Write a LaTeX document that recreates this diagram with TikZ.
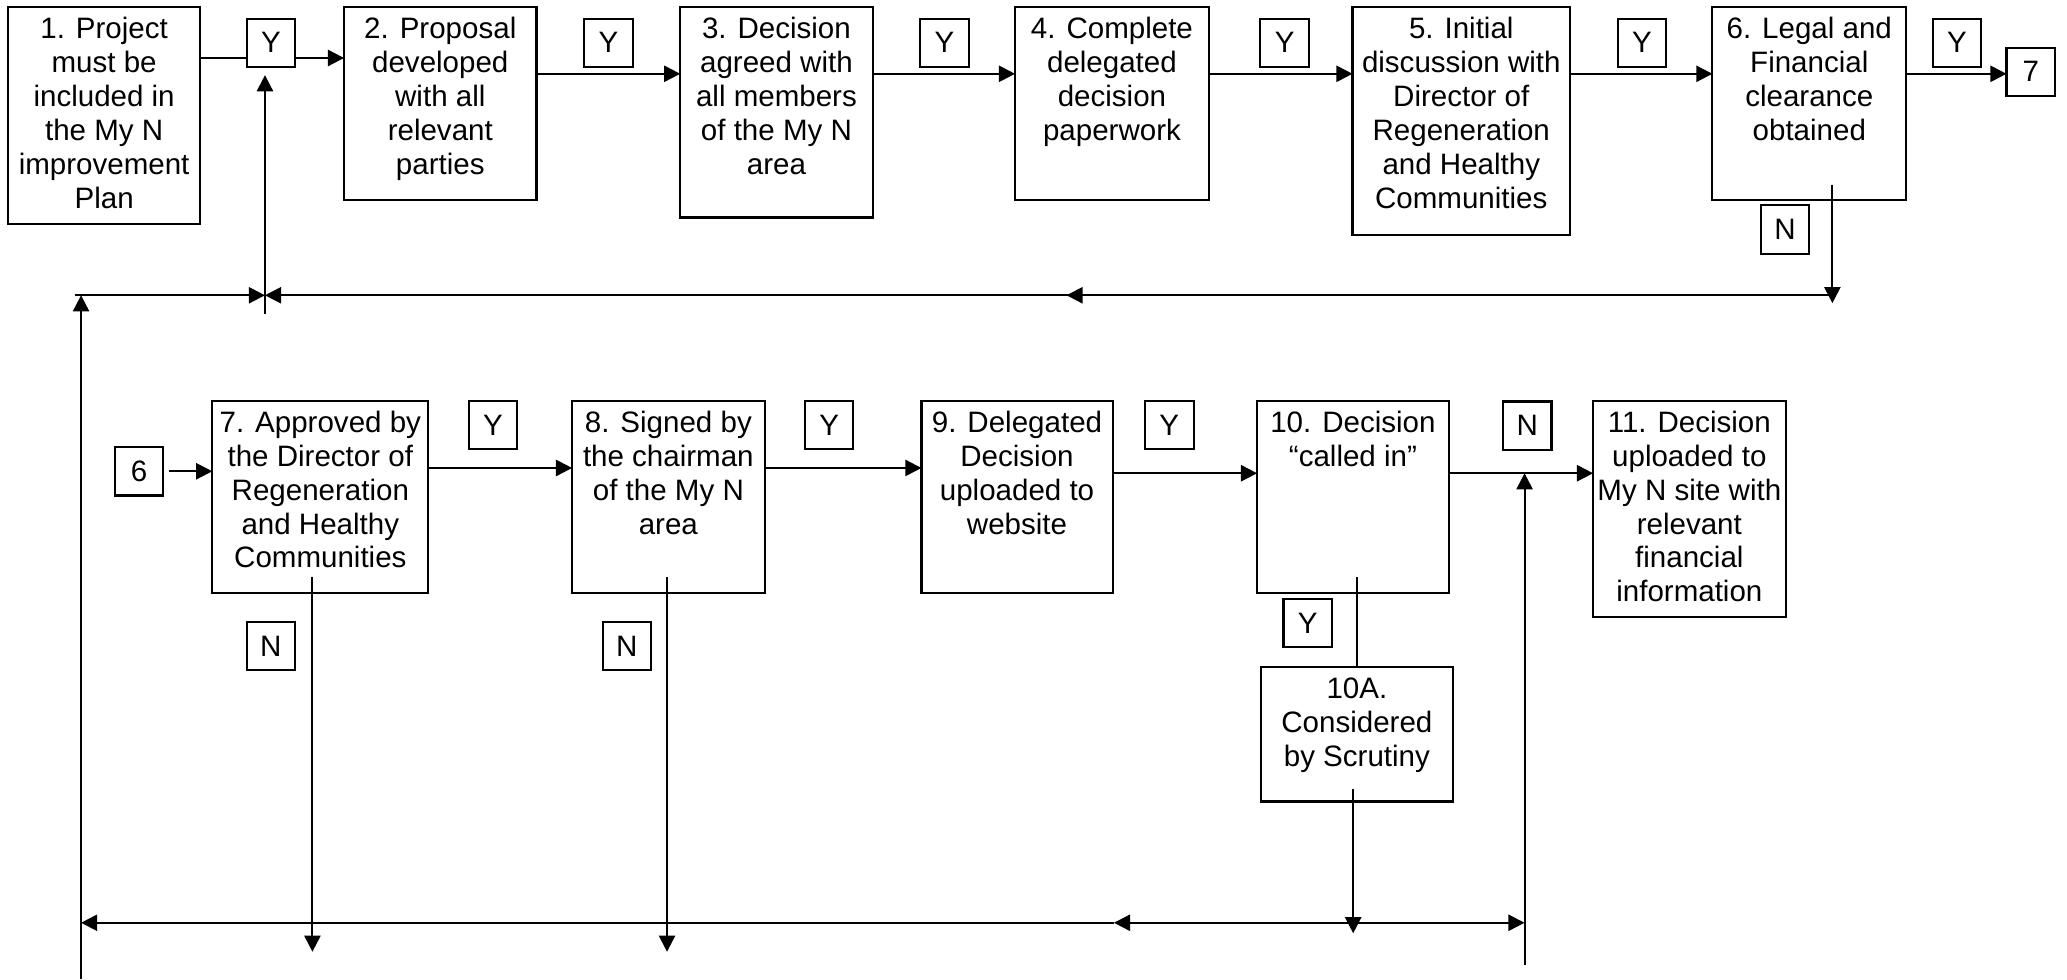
\documentclass[tikz,border=0pt]{standalone}
\usepackage{fontspec}
\setmainfont{Liberation Sans}
\usetikzlibrary{arrows.meta,calc}
\tikzset{
 stepbox/.style={draw, line width=0.6pt, rectangle, inner sep=0pt, outer sep=0pt, anchor=north west},
 steptext/.style={align=center, inner sep=0pt, anchor=north, font=\fontsize{8.4pt}{9.67pt}\selectfont},
 tagbox/.style={draw, line width=0.6pt, minimum width=13.8pt, minimum height=13.8pt, inner sep=0pt, outer sep=0pt, font=\fontsize{8.4pt}{9.67pt}\selectfont},
 conn/.style={line width=0.6pt},
 arr/.style={conn, -{Triangle[length=4.6pt,width=4.6pt]}},
}
\newcommand\mkbox[6]{%
 \node[stepbox, minimum width={(#4-#2)*0.375pt}, minimum height={(#5-#3)*0.375pt}] (#1) at (#2,#3) {};
 \node[steptext] (#1t) at (#1.north) {\rule{0pt}{8.7pt}#6};
}
\begin{document}
\begin{tikzpicture}[x=0.375pt,y=-0.375pt]
\useasboundingbox (0,0) rectangle (1568,743);
% top row boxes
\mkbox{b1}{6}{5.6}{152}{170}{1. Project\\must be\\included in\\the My N\\improvement\\Plan}
\mkbox{b2}{261}{5.6}{407}{152}{2. Proposal\\developed\\with all\\relevant\\parties}
\mkbox{b3}{516}{5.6}{662}{165}{3. Decision\\agreed with\\all members\\of the My N\\area}
\mkbox{b4}{770}{5.6}{917}{152}{4. Complete\\delegated\\decision\\paperwork}
\mkbox{b5}{1026}{5.6}{1191}{178}{5. Initial\\discussion with\\Director of\\Regeneration\\and Healthy\\Communities}
\mkbox{b6}{1299}{5.6}{1446}{152}{6. Legal and\\Financial\\clearance\\obtained}
% bottom row boxes
\mkbox{b7}{161}{304}{325}{450}{7. Approved by\\the Director of\\Regeneration\\and Healthy\\Communities}
\mkbox{b8}{434}{304}{580}{450}{8. Signed by\\the chairman\\of the My N\\area}
\mkbox{b9}{699}{304}{844}{450}{9. Delegated\\Decision\\uploaded to\\website}
\mkbox{b10}{953.6}{304}{1099}{450}{10. Decision\\“called in”}
\mkbox{b10a}{956.6}{506}{1102}{608}{10A.\\Considered\\by Scrutiny}
\mkbox{b11}{1208.5}{304}{1354.5}{468}{11. Decision\\uploaded to\\My N site with\\relevant\\financial\\information}
% tag boxes
\node[tagbox] (y1) at (205.5,32.5) {Y};
\node[tagbox] (y2) at (461.5,32.5) {Y};
\node[tagbox] (y3) at (716.5,32.5) {Y};
\node[tagbox] (y4) at (974.5,32.5) {Y};
\node[tagbox] (y5) at (1245.5,32.5) {Y};
\node[tagbox] (y6) at (1484.5,32.5) {Y};
\node[tagbox] (r7) at (1540.5,54.5) {7};
\node[tagbox] (n6) at (1354,174) {N};
\node[tagbox] (r6) at (105.5,357.5) {6};
\node[tagbox] (y7) at (374,322.5) {Y};
\node[tagbox] (y8) at (629,322.5) {Y};
\node[tagbox] (y9) at (887,322.5) {Y};
\node[tagbox] (n10) at (1158.5,323) {N};
\node[tagbox] (y10) at (992,472.5) {Y};
\node[tagbox] (n7) at (205.5,490) {N};
\node[tagbox] (n8) at (475.5,490) {N};
% top row connectors
\draw[conn] (b1.east |- 0,44) -- (y1.west |- 0,44);
\draw[arr] (y1.east |- 0,44) -- (b2.west |- 0,44);
\draw[arr] (b2.east |- 0,56) -- (b3.west |- 0,56);
\draw[arr] (b3.east |- 0,56) -- (b4.west |- 0,56);
\draw[arr] (b4.east |- 0,56) -- (b5.west |- 0,56);
\draw[arr] (b5.east |- 0,56) -- (b6.west |- 0,56);
\draw[arr] (b6.east |- 0,56) -- (r7.west |- 0,56);
% top feedback loop
\coordinate (s6) at (1390,140);
\coordinate (e6) at (1390,230);
\coordinate (j6) at (1390,224);
\coordinate (jtm) at (809,224);
\coordinate (jtm2) at (845,224);
\coordinate (jt1) at (201,224);
\coordinate (jtl) at (57,224);
\coordinate (jlt) at (61.5,224);
\coordinate (jlb) at (61.5,743);
\coordinate (jt1b) at (201,238);
\coordinate (jt1u) at (201,57);
\draw[arr] (s6) -- (e6);
\draw[arr] (j6) -- (jtm);
\draw[arr] (jtm2) -- (jt1);
\draw[arr] (jtl) -- (jt1);
\draw[arr] (jlb) -- (jlt);
\draw[arr] (jt1b) -- (jt1u);
% bottom row connectors
\draw[arr] ([xshift=1.5pt]r6.east) -- (b7.west |- r6.east);
\draw[arr] (b7.east |- 0,355) -- (b8.west |- 0,355);
\draw[arr] (b8.east |- 0,355) -- (b9.west |- 0,355);
\draw[arr] (b9.east |- 0,359) -- (b10.west |- 0,359);
\draw[arr] (b10.east |- 0,359) -- (b11.west |- 0,359);
\coordinate (jr) at (1156.5,359);
\coordinate (jrb) at (1156.5,732);
\draw[arr] (jrb) -- (jr);
\coordinate (s7) at (237,438);
\coordinate (e7) at (237,722);
\coordinate (s8) at (506,438);
\coordinate (e8) at (506,722);
\draw[arr] (s7) -- (e7);
\draw[arr] (s8) -- (e8);
\coordinate (s10) at (1029.5,438);
\draw[conn] (s10) -- (b10a.north -| s10);
\coordinate (s10a) at (1026.5,598.6);
\coordinate (e10a) at (1026.5,708);
\draw[arr] (s10a) -- (e10a);
\coordinate (jb10a) at (1026.5,700);
\coordinate (jbm) at (845,700);
\coordinate (jbl) at (61.5,700);
\coordinate (jbr) at (1156.5,700);
\draw[arr] (jb10a) -- (jbr);
\draw[arr] (jb10a) -- (jbm);
\draw[arr] (jbm) -- (jbl);
\end{tikzpicture}
\end{document}
